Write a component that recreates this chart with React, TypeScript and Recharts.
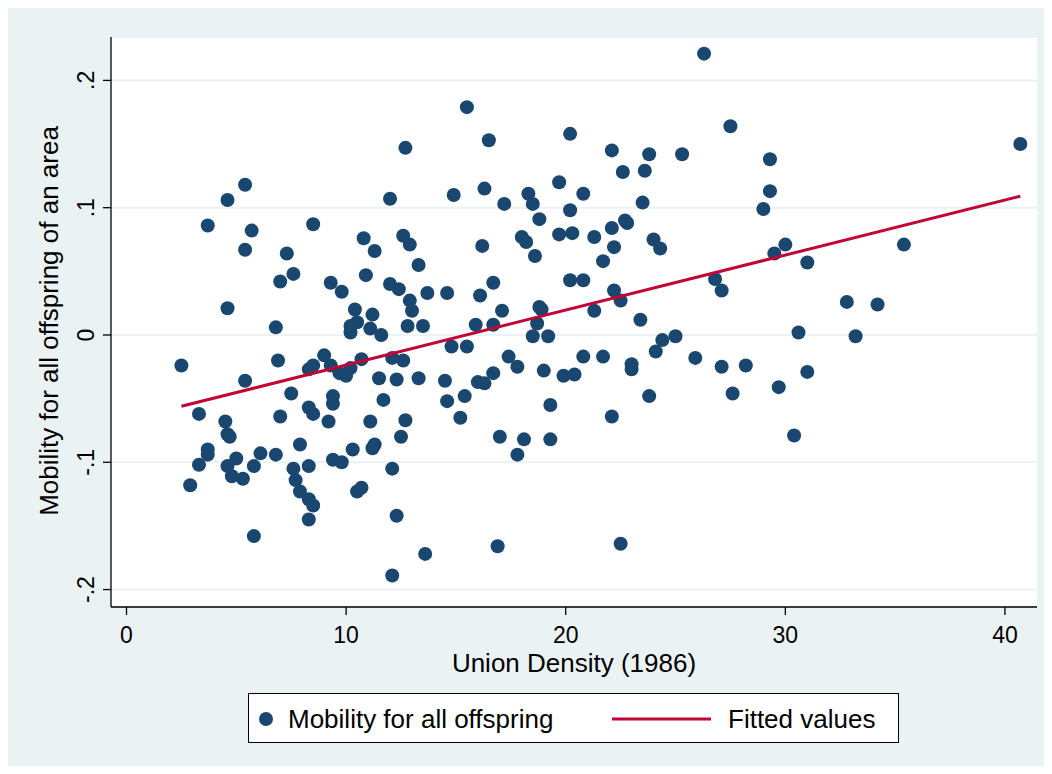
import React from "react";
import { ScatterChart, Scatter, XAxis, YAxis, CartesianGrid } from "recharts";

// [union density 1986, mobility for all offspring]
const offspringPoints: [number, number][] = [
  [5.4, 0.118], [4.6, 0.106], [3.7, 0.086], [5.7, 0.082], [8.5, 0.087],
  [15.5, 0.179], [12.7, 0.147], [16.5, 0.153], [20.2, 0.158], [12.0, 0.107], [14.9, 0.11], [16.3, 0.115],
  [18.3, 0.111], [18.5, 0.103], [17.2, 0.103], [19.7, 0.12], [20.8, 0.111], [20.2, 0.098], [18.8, 0.091],
  [26.3, 0.221], [27.5, 0.164], [22.1, 0.145], [23.8, 0.142], [25.3, 0.142], [29.3, 0.138], [22.6, 0.128],
  [23.6, 0.129], [29.3, 0.113], [23.5, 0.104], [29.0, 0.099], [22.7, 0.09], [22.8, 0.088], [22.1, 0.084],
  [40.7, 0.15], [35.4, 0.071], [32.8, 0.026], [34.2, 0.024], [33.2, -0.001],
  [5.4, 0.067], [7.3, 0.064], [7.6, 0.048], [7.0, 0.042], [9.3, 0.041], [9.8, 0.034], [4.6, 0.021],
  [10.4, 0.02], [10.2, 0.007], [10.2, 0.002], [10.5, 0.01], [6.8, 0.006],
  [2.5, -0.024], [6.9, -0.02], [9.0, -0.016], [8.5, -0.024], [8.3, -0.027], [9.3, -0.024], [9.7, -0.03],
  [10.0, -0.032], [10.2, -0.026], [5.4, -0.036], [7.5, -0.046], [9.4, -0.048], [9.4, -0.054], [3.3, -0.062],
  [4.5, -0.068], [7.0, -0.064], [8.3, -0.057], [8.5, -0.062], [9.2, -0.068],
  [4.6, -0.078], [4.7, -0.08], [3.7, -0.09], [3.7, -0.094], [7.9, -0.086], [6.1, -0.093], [6.8, -0.094],
  [10.3, -0.09], [5.0, -0.097], [9.4, -0.098], [9.8, -0.1], [3.3, -0.102], [4.6, -0.103], [5.8, -0.103],
  [8.3, -0.103], [7.6, -0.105], [4.8, -0.111], [5.3, -0.113], [2.9, -0.118], [7.7, -0.114], [7.9, -0.123],
  [8.3, -0.129], [8.5, -0.134], [10.5, -0.123], [8.3, -0.145], [5.8, -0.158],
  [10.8, 0.076], [12.6, 0.078], [12.9, 0.071], [11.3, 0.066], [16.2, 0.07], [18.0, 0.077], [18.2, 0.073],
  [19.7, 0.079], [20.3, 0.08], [18.6, 0.062], [13.3, 0.055], [10.9, 0.047], [12.0, 0.04], [12.4, 0.036],
  [13.7, 0.033], [14.6, 0.033], [16.1, 0.031], [16.7, 0.041], [20.2, 0.043], [20.8, 0.043],
  [12.9, 0.027], [13.0, 0.019], [11.2, 0.016], [11.1, 0.005], [11.6, 0.0], [12.8, 0.007], [13.5, 0.007],
  [15.9, 0.008], [16.7, 0.008], [17.1, 0.019], [18.8, 0.022], [18.9, 0.02], [18.7, 0.009], [18.5, -0.001],
  [19.2, -0.001],
  [14.8, -0.009], [15.5, -0.009], [17.4, -0.017], [17.8, -0.025], [20.8, -0.017], [19.0, -0.028],
  [19.9, -0.032], [20.4, -0.031], [10.7, -0.019], [12.1, -0.018], [12.6, -0.02], [11.5, -0.034],
  [12.3, -0.035], [13.3, -0.034], [14.5, -0.036], [16.0, -0.037], [16.3, -0.038], [16.7, -0.03],
  [11.7, -0.051], [14.6, -0.052], [15.4, -0.048], [19.3, -0.055], [11.1, -0.068], [12.7, -0.067], [15.2, -0.065],
  [11.3, -0.086], [11.2, -0.089], [12.5, -0.08], [17.0, -0.08], [18.1, -0.082], [17.8, -0.094], [19.3, -0.082],
  [12.1, -0.105], [10.7, -0.12], [12.3, -0.142], [13.6, -0.172], [16.9, -0.166], [12.1, -0.189],
  [21.3, 0.077], [22.2, 0.069], [24.0, 0.075], [24.3, 0.068], [21.7, 0.058], [22.2, 0.035], [22.5, 0.027],
  [21.3, 0.019], [23.4, 0.012], [26.8, 0.044], [27.1, 0.035], [29.5, 0.064], [30.0, 0.071], [31.0, 0.057],
  [30.6, 0.002],
  [24.4, -0.004], [25.0, -0.001], [24.1, -0.013], [21.7, -0.017], [23.0, -0.023], [23.0, -0.027],
  [25.9, -0.018], [27.1, -0.025], [28.2, -0.024], [31.0, -0.029], [23.8, -0.048], [27.6, -0.046],
  [29.7, -0.041], [22.1, -0.064], [30.4, -0.079], [22.5, -0.164],
];

const fittedX = [2.5, 40.7];
const fittedY = [-0.056, 0.109];

const xTicks = [0, 10, 20, 30, 40];
const yTicks = [-0.2, -0.1, 0, 0.1, 0.2];
const yTickLabels = ["-.2", "-.1", "0", ".1", ".2"];

const NAVY = "#1A476F";
const RED = "#C10534";
const BG = "#EAF2F3";
const FONT = "'Liberation Sans', Arial, Helvetica, sans-serif";

const scatterData = offspringPoints.map(([x, y]) => ({ x, y }));
const fittedData = fittedX.map((x, i) => ({ x, y: fittedY[i] }));

const XTick = (props: any) => (
  <text x={props.x} y={635} textAnchor="middle" fontSize={23} fontFamily={FONT} fill="#000">
    {props.payload.value}
  </text>
);

const YTick = (props: any) => {
  const i = yTicks.findIndex((t) => Math.abs(t - props.payload.value) < 1e-9);
  return (
    <text
      x={86}
      y={props.y}
      transform={`rotate(-90 86 ${props.y})`}
      textAnchor="middle"
      fontSize={23}
      fontFamily={FONT}
      fill="#000"
    >
      {yTickLabels[i]}
    </text>
  );
};

const XTitle = () => (
  <text x={566} y={664} textAnchor="middle" fontSize={26} fontFamily={FONT} fill="#000">
    Union Density (1986)
  </text>
);

const YTitle = () => (
  <text
    x={50}
    y={313}
    transform="rotate(-90 50 313)"
    textAnchor="middle"
    fontSize={26}
    fontFamily={FONT}
    fill="#000"
  >
    Mobility for all offspring of an area
  </text>
);

const Dot = (props: any) => <circle cx={props.cx} cy={props.cy} r={7} fill={NAVY} />;

export default function App() {
  return (
    <div style={{ position: "relative", width: 1036, height: 758, background: BG }}>
      <ScatterChart width={1036} height={758} margin={{ top: 29, right: 7, left: 8, bottom: 99 }}>
        <CartesianGrid vertical={false} fill="#ffffff" stroke={BG} strokeWidth={2} />
        <XAxis
          type="number"
          dataKey="x"
          domain={[-0.706, 41.46]}
          allowDataOverflow
          ticks={xTicks}
          tickSize={8}
          height={60}
          axisLine={{ stroke: "#000", strokeWidth: 1.3 }}
          tickLine={{ stroke: "#000", strokeWidth: 1.3 }}
          tick={<XTick />}
          label={<XTitle />}
        />
        <YAxis
          type="number"
          dataKey="y"
          domain={[-0.2137, 0.2341]}
          allowDataOverflow
          ticks={yTicks}
          tickSize={8}
          width={95}
          axisLine={{ stroke: "#000", strokeWidth: 1.3 }}
          tickLine={{ stroke: "#000", strokeWidth: 1.3 }}
          tick={<YTick />}
          label={<YTitle />}
        />
        <Scatter data={scatterData} shape={<Dot />} isAnimationActive={false} />
        <Scatter
          data={fittedData}
          line={{ stroke: RED, strokeWidth: 3 }}
          shape={() => <g />}
          isAnimationActive={false}
        />
      </ScatterChart>
      <div
        style={{
          position: "absolute",
          left: 240,
          top: 685,
          width: 651,
          height: 50,
          background: "#fff",
          border: "1px solid #000",
          boxSizing: "border-box",
        }}
      >
        <svg width={649} height={48} style={{ display: "block" }}>
          <circle cx={17} cy={25} r={7} fill={NAVY} />
          <text x={39} y={34} fontSize={26} fontFamily={FONT} fill="#000">
            Mobility for all offspring
          </text>
          <line x1={363} y1={25} x2={462} y2={25} stroke={RED} strokeWidth={3} />
          <text x={479} y={34} fontSize={26} fontFamily={FONT} fill="#000">
            Fitted values
          </text>
        </svg>
      </div>
    </div>
  );
}
